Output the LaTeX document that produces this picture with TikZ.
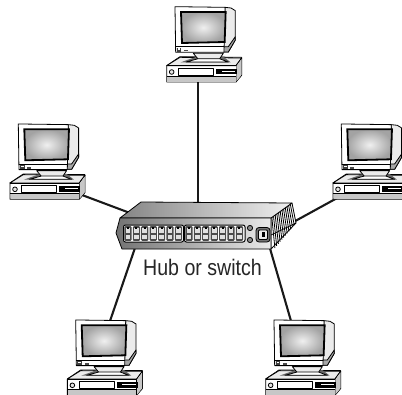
\documentclass[tikz,border=0pt]{standalone}
\usepackage{fontspec}
\setmainfont{Liberation Sans}
\tikzset{
  ol/.style={draw=black,line width=0.8pt,line join=round},
  link/.style={draw=black!90,line width=2.1pt},
  hubtext/.style={font=\fontsize{22.5}{26}\selectfont,inner sep=0pt,xscale=0.87,text=black!85},
  pics/computer/.style={code={
    \begin{scope}[x=0.3333pt,y=-0.3333pt]
    % case
    \fill[ol,fill=white] (20,197) -- (60,170) -- (245,172) -- (245,226) -- (228,246) -- (20,246) -- cycle;
    \fill[ol,fill=black!8] (20,197) -- (60,172) -- (245,174) -- (228,197) -- cycle;
    \draw[ol] (20,197) -- (228,197) -- (228,246);
    \draw[ol] (228,197) -- (245,174);
    \fill[black!22] (22,230) rectangle (227,245);
    \draw[ol] (20,229) -- (228,229);
    \fill[black!22] (229,199) -- (244,178) -- (244,225) -- (229,244) -- cycle;
    \draw[ol,fill=black!10] (35,216) circle (7);
    \draw[ol,fill=white] (55,205) rectangle (160,226);
    \fill[black] (168,206) rectangle (231,223);
    \fill[white] (185,213) rectangle (225,216);
    \fill[black!60] (62,187) -- (110,170) -- (190,170) -- (212,187) -- cycle;
    % stand
    \fill[ol,fill=black!8] (100,160) -- (190,160) -- (178,178) -- (115,178) -- cycle;
    \fill[ol,fill=white] (78,186) -- (115,176) -- (178,176) -- (205,186) -- cycle;
    % monitor
    \fill[ol,fill=black!8] (195,22) -- (213,24) -- (226,32) -- (226,120) -- (205,156) -- (190,156) -- cycle;
    \fill[ol,fill=black!35] (190,140) -- (205,140) -- (226,110) -- (226,120) -- (205,156) -- (190,156) -- cycle;
    \fill[ol,fill=white] (45,20) -- (195,22) -- (192,157) -- (47,157) -- cycle;
    \draw[ol] (47,140) -- (192,140);
    \shade[draw=black,line width=1.8pt,inner color=black!6,outer color=black!36] (63,36) -- (197,36) -- (194,126) -- (66,129) -- cycle;
    \fill[black!75] (50,143) rectangle (64,155);
    \fill[white] (53,145) rectangle (61,150);
    \fill[black!70] (72,149) rectangle (84,154);
    \end{scope}
  }}
}
\begin{document}
\begin{tikzpicture}[x=1pt,y=-1pt]
\useasboundingbox (0,0) rectangle (402,394);
\fill[white] (0,0) rectangle (402,394);
% connector ends
\coordinate (pcTopEnd) at (198,82);
\coordinate (hubTopEnd) at (198,206);
\coordinate (pcLeftEnd) at (82,195);
\coordinate (hubLeftEnd) at (130,213);
\coordinate (pcRightEnd) at (339,197);
\coordinate (hubRightEnd) at (288,225);
\coordinate (pcBLEnd) at (110,321);
\coordinate (hubBLEnd) at (136,245);
\coordinate (pcBREnd) at (291,321);
\coordinate (hubBREnd) at (269,245);
\draw[link] (pcTopEnd) -- (hubTopEnd);
\draw[link] (pcLeftEnd) -- (hubLeftEnd);
\draw[link] (pcRightEnd) -- (hubRightEnd);
\draw[link] (pcBLEnd) -- (hubBLEnd);
\draw[link] (pcBREnd) -- (hubBREnd);
% computers
\pic (pcTop) at (160,0) {computer};
\pic (pcLeft) at (3.3,117.3) {computer};
\pic (pcRight) at (326.3,117.3) {computer};
\pic (pcBL) at (60.7,313.3) {computer};
\pic (pcBR) at (259,313.3) {computer};
% hub
\fill[ol,fill=white] (271,218) -- (292,203) -- (296,223) -- (271,249) -- cycle;
\foreach \t in {0.04,0.12,...,1.0}{
  \draw[black,line width=0.8pt] (271+21*\t,218-15*\t) -- (274+22*\t,249-26*\t);
}
\draw[ol] (271,235) -- (296,223);
\shade[ol,left color=black!48,right color=black!6] (120,218) -- (141,202) -- (292,203) -- (271,218) -- cycle;
\shade[ol,left color=black!55,right color=black!8] (120,218) -- (271,218) -- (271,249) -- (122,249) -- (116,233) -- cycle;
\draw[ol,line width=1pt,fill=white,rounded corners=2pt] (123.5,225) rectangle (183.5,242);
\draw[ol,line width=1pt,fill=white,rounded corners=2pt] (184.5,225) rectangle (245,242);
\foreach \i in {0,...,6}{
  \foreach \x in {128,189}{
    \fill[black!70,rounded corners=1pt] (\x-3.6+\i*8.4,226.2) rectangle +(7.2,14.6);
    \fill[black!12] (\x-2.4+\i*8.4,228.4) rectangle +(4.8,4.2);
    \fill[black!12] (\x-2.4+\i*8.4,235) rectangle +(4.8,4.2);
    \fill[black] (\x-1+\i*8.4,226.8) rectangle +(2,1.8);
  }
}
\draw[ol,fill=black!45] (250,228) circle (2.6);
\draw[ol,fill=black!45] (250,240) circle (2.6);
\draw[ol,fill=black!55,rounded corners=3pt] (256,227.5) rectangle (270,242);
\draw[ol,fill=black!8,rounded corners=1pt] (258.5,230) rectangle (267.5,239.5);
\fill[black] (261.5,232) rectangle (264.5,237);
\node[hubtext] (hubLabel) at (202.5,267.5) {Hub or switch};
\end{tikzpicture}
\end{document}
